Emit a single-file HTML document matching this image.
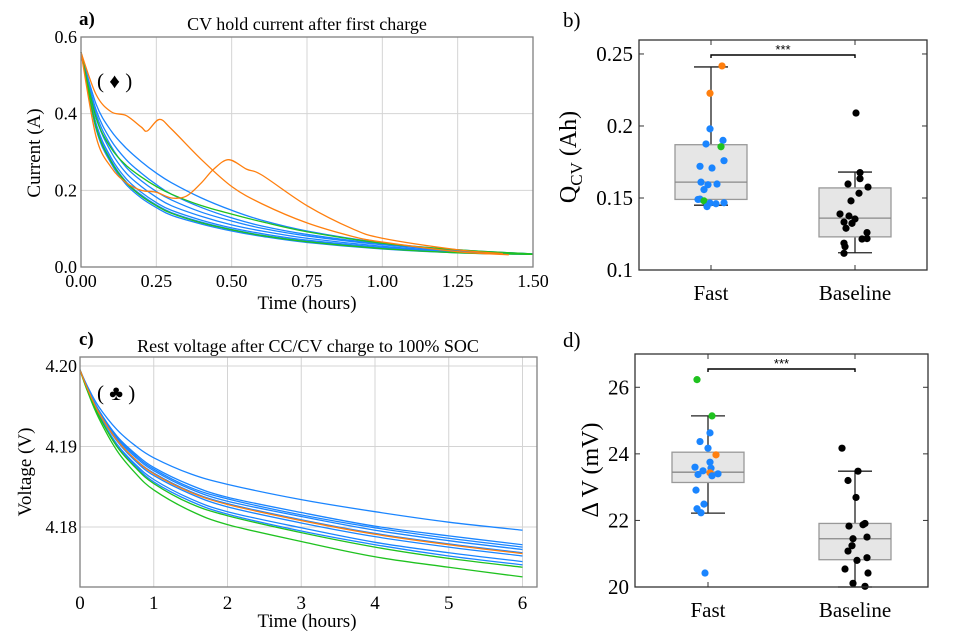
<!DOCTYPE html>
<html><head><meta charset="utf-8">
<style>
html,body{margin:0;padding:0;background:#fff;}
svg{display:block;font-family:"Liberation Serif","DejaVu Serif",serif;}
</style></head>
<body>
<svg id="fig" width="962" height="640" viewBox="0 0 962 640" xmlns="http://www.w3.org/2000/svg">
<rect x="0" y="0" width="962" height="640" fill="#fff"/>
<text x="79" y="25" font-size="19" font-weight="bold">a)</text>
<text x="307" y="30" font-size="18" text-anchor="middle">CV hold current after first charge</text>
<text x="97" y="88" font-size="21">( ♦ )</text>
<text x="307" y="309" font-size="19" text-anchor="middle">Time (hours)</text>
<text transform="translate(40,153) rotate(-90)" font-size="19" text-anchor="middle">Current (A)</text>

<text x="79" y="345" font-size="19" font-weight="bold">c)</text>
<text x="308" y="352" font-size="18" text-anchor="middle">Rest voltage after CC/CV charge to 100% SOC</text>
<text x="97" y="400" font-size="21">( ♣ )</text>
<text x="307" y="627" font-size="19" text-anchor="middle">Time (hours)</text>
<text transform="translate(31,472) rotate(-90)" font-size="19" text-anchor="middle">Voltage (V)</text>

<text x="563" y="27" font-size="21">b)</text>
<text transform="translate(576,157) rotate(-90)" font-size="24" text-anchor="middle">Q<tspan font-size="17" dy="6">CV</tspan><tspan dy="-6"> (Ah)</tspan></text>
<text x="563" y="347" font-size="21">d)</text>
<text transform="translate(598,470) rotate(-90)" font-size="24" text-anchor="middle">Δ V (mV)</text>
<g id="root"></g>
</svg>
<script>
// ---------- Panel a data ----------
const aTimes = [0,0.05,0.1,0.15,0.2,0.25,0.3,0.4,0.5,0.6,0.75,1.0,1.25,1.5];
const aBlue1 = [0.56,0.36,0.27,0.215,0.18,0.155,0.135,0.112,0.094,0.08,0.064,0.047,0.037,0.033];
const aBlue2 = [0.56,0.375,0.285,0.23,0.195,0.168,0.148,0.122,0.102,0.087,0.07,0.051,0.039,0.033];
const aBlue3 = [0.56,0.39,0.3,0.245,0.21,0.182,0.16,0.132,0.11,0.094,0.075,0.054,0.041,0.033];
const aBlue4 = [0.56,0.4,0.315,0.26,0.225,0.197,0.175,0.143,0.12,0.101,0.081,0.058,0.043,0.034];
const aBlue5 = [0.56,0.41,0.33,0.28,0.245,0.215,0.19,0.155,0.128,0.107,0.085,0.06,0.044,0.034];
const aBlue6 = [0.56,0.425,0.355,0.31,0.275,0.245,0.22,0.18,0.148,0.122,0.094,0.063,0.045,0.034];
const aBlue7 = [0.56,0.368,0.278,0.222,0.188,0.162,0.142,0.117,0.098,0.083,0.067,0.049,0.038,0.033];
const aGreen1 = [0.56,0.39,0.31,0.265,0.235,0.21,0.19,0.16,0.138,0.118,0.092,0.062,0.045,0.034];
const aGreen2 = [0.56,0.365,0.275,0.22,0.185,0.16,0.14,0.115,0.097,0.082,0.066,0.048,0.037,0.033];
const aOrange1Times = [0,0.05,0.1,0.15,0.2,0.22,0.26,0.3,0.4,0.5,0.6,0.75,0.9,1.0,1.25,1.42];
const aOrange1 = [0.56,0.45,0.405,0.395,0.365,0.355,0.385,0.36,0.28,0.21,0.165,0.115,0.08,0.065,0.04,0.032];
const aOrange2Times = [0,0.05,0.1,0.15,0.2,0.25,0.3,0.35,0.4,0.44,0.49,0.55,0.6,0.75,0.9,1.0,1.25,1.4];
const aOrange2 = [0.56,0.34,0.26,0.22,0.2,0.195,0.18,0.185,0.22,0.255,0.28,0.255,0.24,0.16,0.1,0.075,0.045,0.035];
const aXTicks = ["0.00","0.25","0.50","0.75","1.00","1.25","1.50"];
const aYTicks = ["0.0","0.2","0.4","0.6"];
// ---------- Panel c data ----------
const cTimes = [0,0.1,0.25,0.5,0.75,1,1.5,2,3,4,5,6];
const cBlue1 = [4.1995,4.1975,4.195,4.1921,4.1901,4.1886,4.1866,4.1853,4.1834,4.1819,4.1806,4.1796];
const cBlue2 = [4.1995,4.1973,4.1946,4.1913,4.1891,4.1874,4.1852,4.1837,4.1818,4.1801,4.1789,4.1778];
const cBlue7 = [4.1995,4.1973,4.1945,4.1912,4.1889,4.1872,4.1849,4.1835,4.1815,4.1799,4.1786,4.1775];
const cBlue3 = [4.1995,4.1972,4.1944,4.191,4.1887,4.187,4.1847,4.1832,4.1813,4.1796,4.1783,4.1772];
const cBlue8 = [4.1995,4.1972,4.1943,4.1908,4.1884,4.1867,4.1844,4.1829,4.1809,4.1792,4.1779,4.1768];
const cBlue4 = [4.1995,4.1972,4.1942,4.1907,4.1882,4.1864,4.1841,4.1825,4.1805,4.1788,4.1775,4.1764];
const cBlue5 = [4.1995,4.1971,4.194,4.1903,4.1878,4.1859,4.1835,4.1819,4.1799,4.1781,4.1768,4.1757];
const cBlue6 = [4.1995,4.1971,4.1939,4.1902,4.1876,4.1856,4.1832,4.1816,4.1795,4.1778,4.1764,4.1753];
const cOrange = [4.1995,4.1972,4.1943,4.1908,4.1884,4.1866,4.1843,4.1828,4.1808,4.1791,4.1778,4.1767];
const cGreen2 = [4.1995,4.197,4.1939,4.19,4.1874,4.1854,4.1829,4.1814,4.1793,4.1775,4.1761,4.175];
const cGreen1 = [4.1995,4.1969,4.1936,4.1895,4.1867,4.1846,4.182,4.1803,4.1782,4.1763,4.175,4.1738];
const cXTicks = ["0","1","2","3","4","5","6"];
const cYTicks = ["4.18","4.19","4.20"];
// ---------- Panel b data ----------
const bCategories = ["Fast","Baseline"];
const bBoxLow = [0.149,0.123];
const bBoxHigh = [0.187,0.157];
const bMedian = [0.161,0.136];
const bWhiskLow = [0.145,0.112];
const bWhiskHigh = [0.241,0.168];
const bFastValues = [0.2417,0.2227,0.198,0.190,0.1875,0.1856,0.172,0.1708,0.1759,0.161,0.1592,0.1597,0.1558,0.149,0.1492,0.148,0.1465,0.146,0.1467,0.144];
const bFastColors = ["o","o","b","b","b","g","b","b","b","b","b","b","b","b","b","g","b","b","b","b"];
const bFastJitter = [11,-1,-1,12,-5,10,-11,1,13,-10,-3,6,-7,-13,-11,-7,-1,5,13,-4];
const bBaseValues = [0.209,0.1676,0.1634,0.1597,0.1576,0.1533,0.148,0.1389,0.1375,0.1354,0.1333,0.1324,0.129,0.126,0.1215,0.1218,0.1186,0.1162,0.1116];
const bBaseJitter = [1,5,5,-7,13,4,-4,-15,-6,0,-11,-3,-9,12,7,12,-11,-10,-11];
const bYTicks = ["0.1","0.15","0.2","0.25"];
const bYTickValues = [0.1,0.15,0.2,0.25];
// ---------- Panel d data ----------
const dBoxLow = [23.14,20.82];
const dBoxHigh = [24.05,21.91];
const dMedian = [23.45,21.45];
const dWhiskLow = [22.22,20.0];
const dWhiskHigh = [25.14,23.48];
const dFastValues = [26.23,25.14,24.63,24.37,24.17,23.97,23.75,23.6,23.57,23.49,23.43,23.38,23.4,23.34,22.91,22.49,22.35,22.23,20.42];
const dFastColors = ["g","g","b","b","b","o","b","b","b","b","o","b","b","b","b","b","b","b","b"];
const dFastJitter = [-11,4,2,-8,0,8,2,-13,3,-5,2,-10,10,4,-12,-4,-11,-7,-3];
const dBaseValues = [24.17,23.48,23.2,22.69,21.91,21.87,21.83,21.5,21.45,21.24,21.08,20.88,20.8,20.54,20.42,20.11,20.02];
const dBaseJitter = [-13,3,-7,1,10,8,-6,12,-2,-3,-7,12,2,-10,13,-2,10];
const dYTicks = ["20","22","24","26"];
const dYTickValues = [20,22,24,26];

const NS = "http://www.w3.org/2000/svg";
const root = document.getElementById("root");
const COL = {b:"#1a85ff", o:"#ff7f0e", g:"#1fc21f", k:"#000"};
function mk(tag, attrs, parent){
  const e = document.createElementNS(NS, tag);
  for (const k in attrs) e.setAttribute(k, attrs[k]);
  (parent||root).appendChild(e);
  return e;
}
function pathFrom(xs, ys, sx, sy){
  const P = xs.map((x,i)=>[sx(x), sy(ys[i])]);
  let d = "M"+P[0][0].toFixed(2)+","+P[0][1].toFixed(2);
  for (let i=0;i<P.length-1;i++){
    const p0=P[Math.max(0,i-1)], p1=P[i], p2=P[i+1], p3=P[Math.min(P.length-1,i+2)];
    const c1=[p1[0]+(p2[0]-p0[0])/6, p1[1]+(p2[1]-p0[1])/6];
    const c2=[p2[0]-(p3[0]-p1[0])/6, p2[1]-(p3[1]-p1[1])/6];
    d += " C"+c1[0].toFixed(2)+","+c1[1].toFixed(2)+" "+c2[0].toFixed(2)+","+c2[1].toFixed(2)+" "+p2[0].toFixed(2)+","+p2[1].toFixed(2);
  }
  return d;
}

// ===== Panel a =====
(function(){
  const L=81,R=533,T=37,B=267;
  const sx=t=>L+(t/1.5)*(R-L);
  const sy=v=>B-(v/0.6)*(B-T);
  const g=mk("g",{});
  
  
  aXTicks.forEach((lab,i)=>{
    const x=sx(parseFloat(lab));
    const gl=mk("line",{x1:x,x2:x,y1:T,y2:B,stroke:"#d4d4d4","stroke-width":1},g);
    
    
    const t=mk("text",{x:x,y:B+20,"font-size":18,"text-anchor":"middle"},g);
    t.textContent=lab;
    
    
  });
  aYTicks.forEach(lab=>{
    const y=sy(parseFloat(lab));
    const gl=mk("line",{x1:L,x2:R,y1:y,y2:y,stroke:"#d4d4d4","stroke-width":1},g);
    
    
    const t=mk("text",{x:L-4,y:y+6,"font-size":18,"text-anchor":"end"},g);
    t.textContent=lab;
    
    
  });
  const series=[[aTimes,aBlue6,"b"],[aTimes,aBlue5,"b"],[aTimes,aBlue4,"b"],[aTimes,aBlue3,"b"],[aTimes,aBlue2,"b"],[aTimes,aBlue7,"b"],[aTimes,aBlue1,"b"],[aTimes,aGreen1,"g"],[aTimes,aGreen2,"g"],[aOrange1Times,aOrange1,"o"],[aOrange2Times,aOrange2,"o"]];
  series.forEach(s=>{
    const p=mk("path",{d:pathFrom(s[0],s[1],sx,sy),fill:"none",stroke:COL[s[2]],"stroke-width":1.3},g);
    
    
  });
  const fr=mk("rect",{x:L,y:T,width:R-L,height:B-T,fill:"none",stroke:"#808080","stroke-width":1.3},g);
  
  
})();

// ===== Panel c =====
(function(){
  const L=80,R=537,T=357,B=587;
  const x6=522.5;
  const sx=t=>L+(t/6)*(x6-L);
  const sy=v=>527-(v-4.18)/0.01*80.5;
  const g=mk("g",{});
  
  
  cXTicks.forEach(lab=>{
    const x=sx(parseFloat(lab));
    const gl=mk("line",{x1:x,x2:x,y1:T,y2:B,stroke:"#d4d4d4","stroke-width":1},g);
    
    
    const t=mk("text",{x:x,y:B+22,"font-size":19,"text-anchor":"middle"},g);
    t.textContent=lab;
    
    
  });
  cYTicks.forEach(lab=>{
    const y=sy(parseFloat(lab));
    const gl=mk("line",{x1:L,x2:R,y1:y,y2:y,stroke:"#d4d4d4","stroke-width":1},g);
    
    
    const t=mk("text",{x:L-3,y:y+6,"font-size":18,"text-anchor":"end"},g);
    t.textContent=lab;
    
    
  });
  const series=[[cBlue1,"b"],[cBlue2,"b"],[cBlue7,"b"],[cBlue3,"b"],[cBlue8,"b"],[cBlue4,"b"],[cBlue5,"b"],[cBlue6,"b"],[cGreen2,"g"],[cGreen1,"g"],[cOrange,"o"]];
  series.forEach(s=>{
    const p=mk("path",{d:pathFrom(cTimes,s[0],sx,sy),fill:"none",stroke:COL[s[1]],"stroke-width":1.3},g);
    
    
  });
  const fr=mk("rect",{x:L,y:T,width:R-L,height:B-T,fill:"none",stroke:"#808080","stroke-width":1.3},g);
  
  
})();

// ===== Box panels =====
function boxPanel(o){
  const {L,R,T,B,vmin,vmax,xs,id}=o;
  const sy=v=>B-(v-vmin)/(vmax-vmin)*(B-T);
  const g=mk("g",{});
  
  
  o.tickVals.forEach((v,i)=>{
    const y=sy(v);
    const tl=mk("line",{x1:L,x2:L+5,y1:y,y2:y,stroke:"#333","stroke-width":1},g);
    
    
    const tr=mk("line",{x1:R-5,x2:R,y1:y,y2:y,stroke:"#333","stroke-width":1},g);
    
    
    const t=mk("text",{x:L-6,y:y+7,"font-size":21,"text-anchor":"end"},g);
    t.textContent=o.tickLabels[i];
    
    
  });
  bCategories.forEach((c,i)=>{
    const x=xs[i];
    const tk=mk("line",{x1:x,x2:x,y1:B,y2:B-5,stroke:"#333","stroke-width":1},g);
    
    
    const tk2=mk("line",{x1:x,x2:x,y1:T,y2:T+5,stroke:"#333","stroke-width":1},g);
    
    
    const t=mk("text",{x:x,y:B+30,"font-size":21,"text-anchor":"middle"},g);
    t.textContent=c;
    
    
    const wl=mk("line",{x1:x,x2:x,y1:sy(o.wl[i]),y2:sy(o.wh[i]),stroke:"#222","stroke-width":1.3},g);
    
    
    [o.wl[i],o.wh[i]].forEach(v=>{
      const cp=mk("line",{x1:x-17,x2:x+17,y1:sy(v),y2:sy(v),stroke:"#222","stroke-width":1.3},g);
      
      
    });
    const bx=mk("rect",{x:x-36,y:sy(o.bh[i]),width:72,height:sy(o.bl[i])-sy(o.bh[i]),fill:"#e6e6e6",stroke:"#999","stroke-width":1.3},g);
    
    
    const md=mk("line",{x1:x-36,x2:x+36,y1:sy(o.md[i]),y2:sy(o.md[i]),stroke:"#888","stroke-width":1.3},g);
    
    
  });
  o.fastVals.forEach((v,i)=>{
    const d=mk("circle",{cx:xs[0]+o.fastJit[i],cy:sy(v),r:3.6,fill:COL[o.fastCol[i]]},g);
    
    
  });
  o.baseVals.forEach((v,i)=>{
    const d=mk("circle",{cx:xs[1]+o.baseJit[i],cy:sy(v),r:3.6,fill:"#000"},g);
    
    
  });
  const by=o.bracketY;
  const br=mk("path",{d:`M${xs[0]},${by+3}V${by}H${xs[1]}V${by+3}`,fill:"none",stroke:"#000","stroke-width":1.4},g);
  
  
  const st=mk("text",{x:(xs[0]+xs[1])/2,y:by-1,"font-size":13,"text-anchor":"middle","font-family":"Liberation Sans, sans-serif"},g);
  st.textContent="***";
  
  
  const fr=mk("rect",{x:L,y:T,width:R-L,height:B-T,fill:"none",stroke:"#333","stroke-width":1.3},g);
  
  
}
boxPanel({id:"panel-b",L:639,R:927,T:40,B:270,vmin:0.1,vmax:0.2597,xs:[711,855],
  tickVals:bYTickValues,tickLabels:bYTicks,bl:bBoxLow,bh:bBoxHigh,md:bMedian,wl:bWhiskLow,wh:bWhiskHigh,
  fastVals:bFastValues,fastCol:bFastColors,fastJit:bFastJitter,baseVals:bBaseValues,baseJit:bBaseJitter,bracketY:55});
boxPanel({id:"panel-d",L:635,R:928,T:354,B:587,vmin:20,vmax:27,xs:[708,855],
  tickVals:dYTickValues,tickLabels:dYTicks,bl:dBoxLow,bh:dBoxHigh,md:dMedian,wl:dWhiskLow,wh:dWhiskHigh,
  fastVals:dFastValues,fastCol:dFastColors,fastJit:dFastJitter,baseVals:dBaseValues,baseJit:dBaseJitter,bracketY:369});
</script>
</body></html>
